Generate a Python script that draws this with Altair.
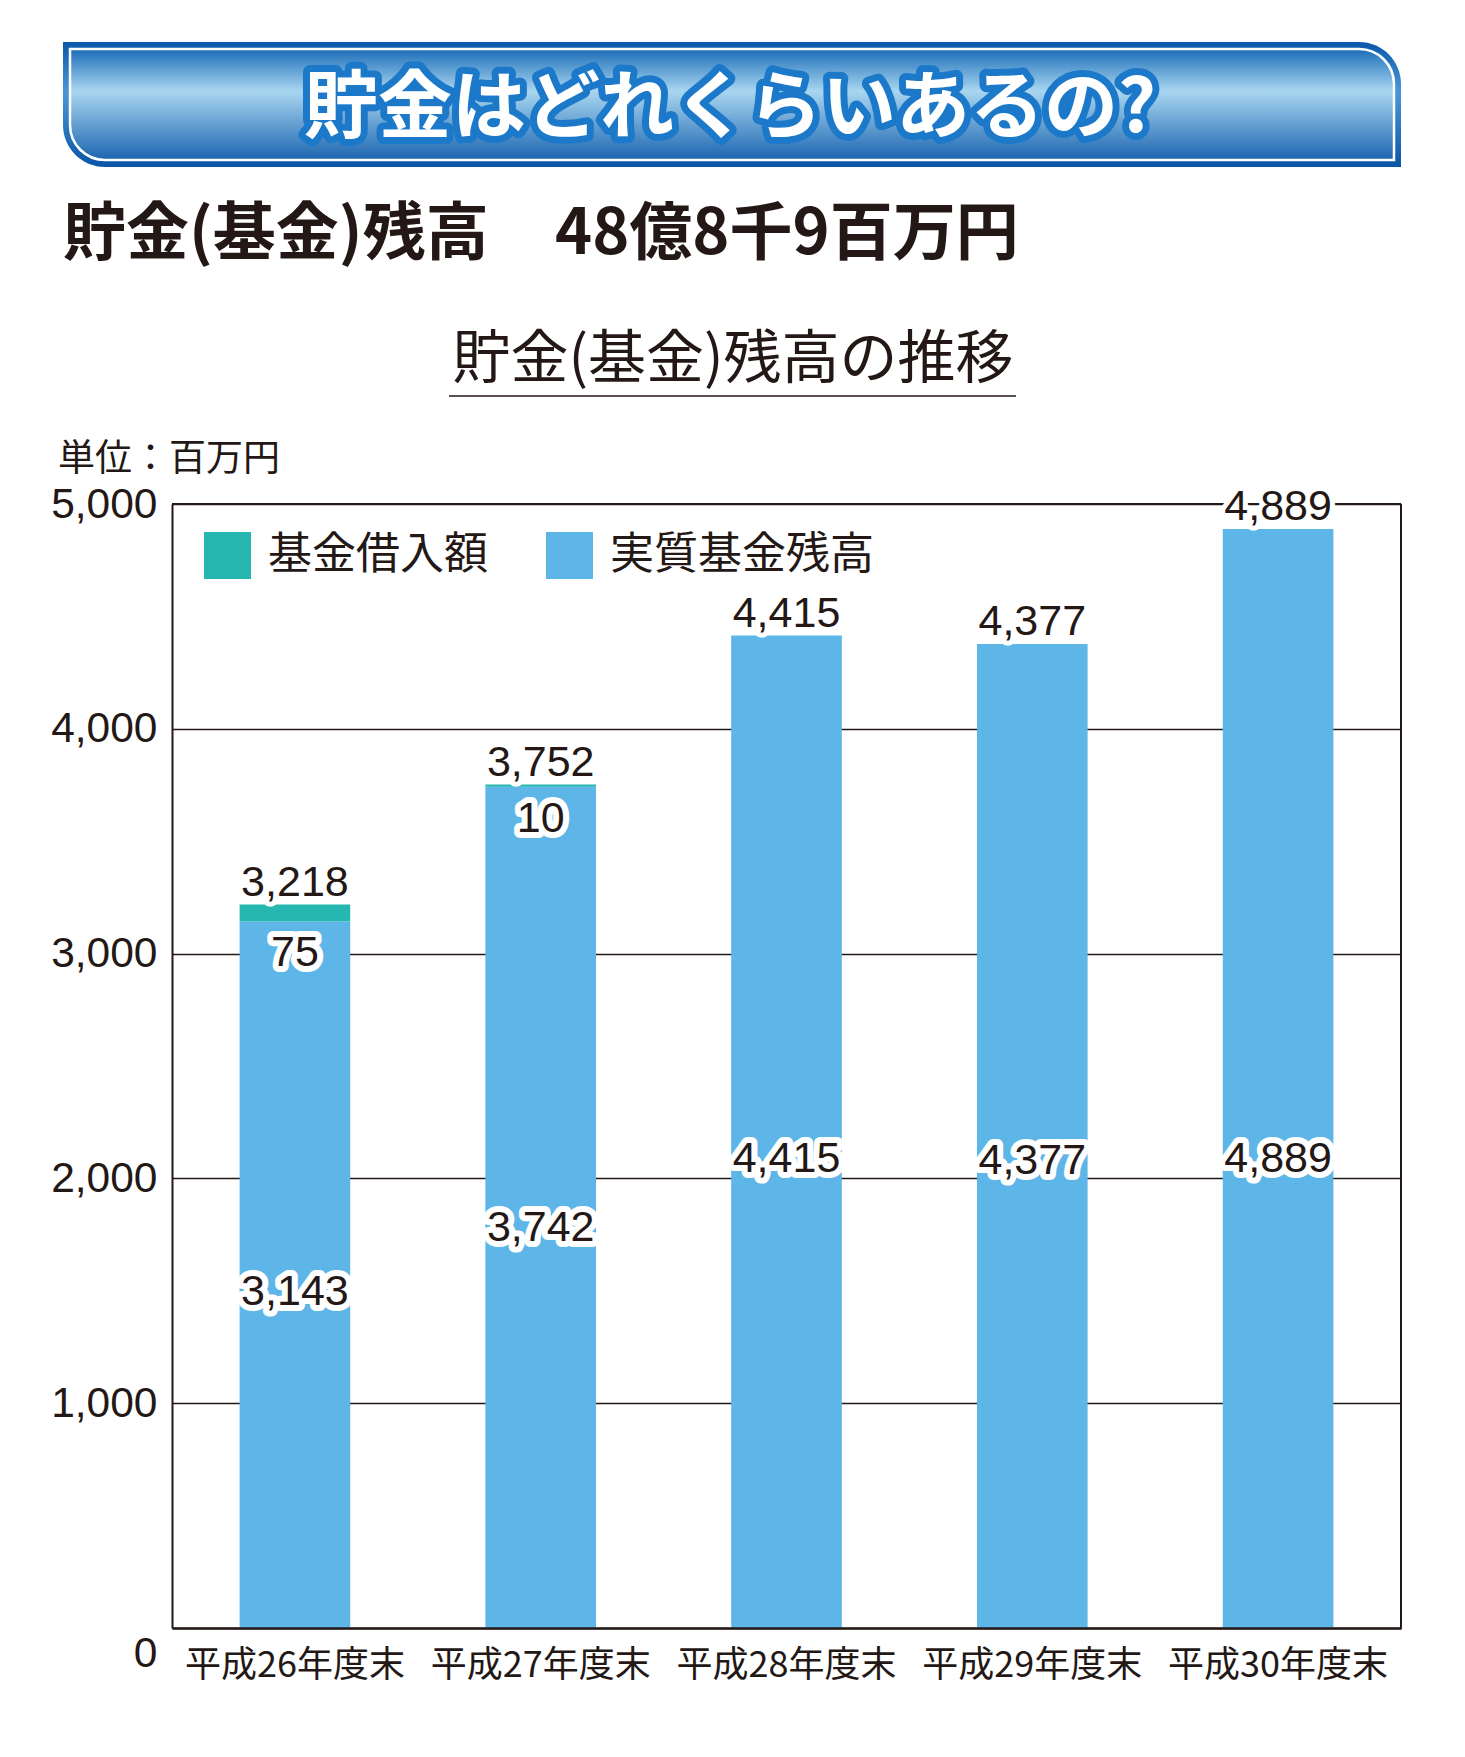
import altair as alt
import pandas as pd

# ---------------- data ----------------
categories = ["平成26年度末", "平成27年度末", "平成28年度末", "平成29年度末", "平成30年度末"]
jisshitsu = [3143, 3742, 4415, 4377, 4889]      # 実質基金残高
kariire = [75, 10, 0, 0, 0]                     # 基金借入額
series_names = ["基金借入額", "実質基金残高"]
y_ticks = [0, 1000, 2000, 3000, 4000, 5000]

title_text = "貯金はどれくらいあるの?"
headline_left = "貯金(基金)残高"
headline_right = "48億8千9百万円"
subtitle_text = "貯金(基金)残高の推移"
unit_text = "単位：百万円"

# ---------------- styles ----------------
INK = "#231815"
TEAL = "#26b7b0"
BLUE = "#5db5e8"
W, H = 1229, 1124
JP = "Noto Sans CJK JP"
NUM = "Liberation Sans"
LBL = 43

rows = []
for c, j, k in zip(categories, jisshitsu, kariire):
    rows.append({"cat": c, "series": series_names[1], "value": j, "ord": 0})
    rows.append({"cat": c, "series": series_names[0], "value": k, "ord": 1})
long_df = pd.DataFrame(rows)
wide_df = pd.DataFrame({"cat": categories, "jisshitsu": jisshitsu, "kariire": kariire})
wide_df["total"] = wide_df["jisshitsu"] + wide_df["kariire"]
one = pd.DataFrame({"k": [0]})

x_enc = alt.X(
    "cat:N", sort=categories,
    scale=alt.Scale(paddingInner=0.55, paddingOuter=0.275),
    axis=alt.Axis(title=None, labelAngle=0, labelFont=JP, labelFontSize=36, labelColor=INK,
                  labelPadding=20, ticks=False, domainColor=INK, domainWidth=2.5, zindex=1,
                  labelLimit=0, grid=False),
)
y_scale = alt.Scale(domain=[0, 5000], nice=False)
y_axis = alt.Axis(
    title=None, values=y_ticks, format=",d", labelFont=NUM, labelFontSize=42.5, labelColor=INK,
    labelPadding=15, ticks=False, domainColor=INK, domainWidth=2, grid=True, gridColor=INK,
    gridWidth=1.5, zindex=0,
    labelOffset={"condition": {"test": "datum.value === 0", "value": 25}, "value": 0},
)


def Y(field):
    return alt.Y(field, scale=y_scale, axis=y_axis, stack=None)


bars = alt.Chart(long_df).mark_bar().encode(
    x=x_enc,
    y=alt.Y("value:Q", stack="zero", scale=y_scale, axis=y_axis),
    color=alt.Color(
        "series:N",
        scale=alt.Scale(domain=series_names, range=[TEAL, BLUE]),
        legend=alt.Legend(
            title=None, orient="none", legendX=32, legendY=28, direction="horizontal",
            symbolType="square", symbolSize=2209, symbolStrokeWidth=0, symbolOpacity=1,
            labelFont=JP, labelFontSize=44, labelColor=INK, labelOffset=17, labelLimit=0,
            columnPadding=58, padding=0,
        ),
    ),
    order=alt.Order("ord:Q", sort="ascending"),
)

frame_top = alt.Chart(one).mark_rule(color=INK, strokeWidth=2).encode(
    x=alt.value(0), x2=alt.value(W), y=alt.value(0))
frame_right = alt.Chart(one).mark_rule(color=INK, strokeWidth=2).encode(
    x=alt.value(W), y=alt.value(0), y2=alt.value(H))

lbl = alt.Chart(wide_df)

# 基金借入額 labels (just below the teal segment)
kar = lbl.transform_filter("datum.kariire > 0")
kar_halo = kar.mark_text(font=NUM, fontSize=LBL, baseline="alphabetic", dy=45, fill="white",
                         stroke="white", strokeWidth=12, strokeJoin="round").encode(
    x=x_enc, y=Y("jisshitsu:Q"), text=alt.Text("kariire:Q", format=",d"))
kar_txt = kar.mark_text(font=NUM, fontSize=LBL, baseline="alphabetic", dy=45, color=INK).encode(
    x=x_enc, y=Y("jisshitsu:Q"), text=alt.Text("kariire:Q", format=",d"))

# 実質基金残高 labels inside the bars
inn = lbl.transform_calculate(anchor="min(datum.jisshitsu * 0.475, 2085)")
in_halo = inn.mark_text(font=NUM, fontSize=LBL, baseline="middle", fill="white",
                        stroke="white", strokeWidth=12, strokeJoin="round").encode(
    x=x_enc, y=Y("anchor:Q"), text=alt.Text("jisshitsu:Q", format=",d"))
in_txt = inn.mark_text(font=NUM, fontSize=LBL, baseline="middle", color=INK).encode(
    x=x_enc, y=Y("anchor:Q"), text=alt.Text("jisshitsu:Q", format=",d"))

# totals above bars
top_halo = lbl.mark_text(font=NUM, fontSize=LBL, baseline="alphabetic", dy=-9, fill="white",
                         stroke="white", strokeWidth=10, strokeJoin="round").encode(
    x=x_enc, y=Y("total:Q"), text=alt.Text("total:Q", format=",d"))
top_txt = lbl.mark_text(font=NUM, fontSize=LBL, baseline="alphabetic", dy=-9, color=INK).encode(
    x=x_enc, y=Y("total:Q"), text=alt.Text("total:Q", format=",d"))

# ---------------- decorations above the plot ----------------
outer_grad = alt.LinearGradient(
    gradient="linear", x1=0, x2=0, y1=0, y2=1,
    stops=[alt.GradientStop(color="#0a58a8", offset=0),
           alt.GradientStop(color="#4b97d6", offset=0.4),
           alt.GradientStop(color="#0a55a5", offset=1)])
inner_grad = alt.LinearGradient(
    gradient="linear", x1=0, x2=0, y1=0, y2=1,
    stops=[alt.GradientStop(color="#1b6db8", offset=0),
           alt.GradientStop(color="#a9d6f0", offset=0.38),
           alt.GradientStop(color="#1c65b0", offset=1)])

banner_outer = alt.Chart(one).mark_rect(
    color=outer_grad, cornerRadiusTopRight=42, cornerRadiusBottomLeft=42).encode(
    x=alt.value(-109), x2=alt.value(1229), y=alt.value(-462), y2=alt.value(-337))
banner_inner = alt.Chart(one).mark_rect(
    color=inner_grad, stroke="white", strokeWidth=2.5,
    cornerRadiusTopRight=35, cornerRadiusBottomLeft=35).encode(
    x=alt.value(-102), x2=alt.value(1222), y=alt.value(-455), y2=alt.value(-344))

title_halo = alt.Chart(one).mark_text(
    text=title_text, font=JP, fontWeight="bold", fontSize=74, align="center", baseline="middle",
    fill="#1c78c8", stroke="#1c78c8", strokeWidth=14, strokeJoin="round").encode(
    x=alt.value(558), y=alt.value(-394))
title_txt = alt.Chart(one).mark_text(
    text=title_text, font=JP, fontWeight="bold", fontSize=74, align="center", baseline="middle",
    color="white").encode(x=alt.value(558), y=alt.value(-394))

head_l = alt.Chart(one).mark_text(
    text=headline_left, font=JP, fontWeight="bold", fontSize=63, align="left", baseline="middle",
    color=INK).encode(x=alt.value(-109), y=alt.value(-269))
head_r = alt.Chart(one).mark_text(
    text=headline_right, font=JP, fontWeight="bold", fontSize=63, align="left", baseline="middle",
    color=INK).encode(x=alt.value(383), y=alt.value(-269))

sub_txt = alt.Chart(one).mark_text(
    text=subtitle_text, font=JP, fontSize=58, align="center", baseline="middle",
    color=INK).encode(x=alt.value(561), y=alt.value(-143))
sub_line = alt.Chart(one).mark_rule(color=INK, strokeWidth=1.5).encode(
    x=alt.value(277), x2=alt.value(844), y=alt.value(-108))

unit = alt.Chart(one).mark_text(
    text=unit_text, font=JP, fontSize=37, align="left", baseline="middle",
    color=INK).encode(x=alt.value(-114), y=alt.value(-44))

chart = alt.layer(
    bars, frame_top, frame_right,
    kar_halo, kar_txt, in_halo, in_txt, top_halo, top_txt,
    banner_outer, banner_inner, title_halo, title_txt,
    head_l, head_r, sub_txt, sub_line, unit,
).properties(
    width=W, height=H,
    padding={"left": 172, "top": 504, "right": 64, "bottom": 129},
    autosize=alt.AutoSizeParams(type="none"),
).configure_view(strokeWidth=0).configure(background="white")

chart.save("out.html", embed_options={"renderer": "svg", "actions": False})
